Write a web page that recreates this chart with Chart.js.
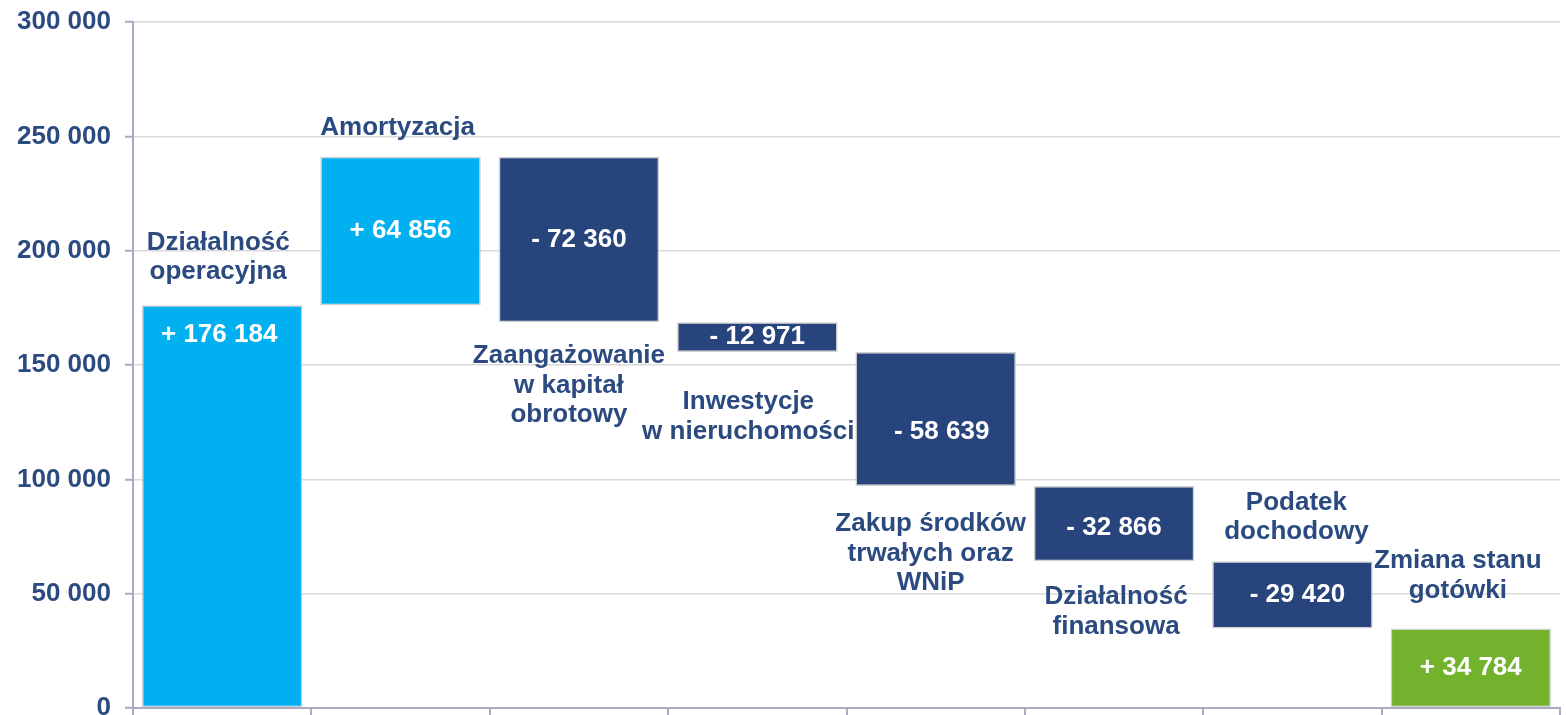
<!DOCTYPE html>
<html>
<head>
<meta charset="utf-8">
<script src="https://cdn.jsdelivr.net/npm/chart.js@4/dist/chart.umd.min.js"></script>
<style>
  html, body { margin: 0; padding: 0; background: #ffffff; }
  #wrap { width: 1566px; height: 715px; position: relative; }
</style>
</head>
<body>
<div id="wrap"><canvas id="c" width="1566" height="715"></canvas></div>
<script>
// ---- data ----
const categories = [
  ['Działalność', 'operacyjna'],
  ['Amortyzacja'],
  ['Zaangażowanie', 'w kapitał', 'obrotowy'],
  ['Inwestycje', 'w nieruchomości'],
  ['Zakup środków', 'trwałych oraz', 'WNiP'],
  ['Działalność', 'finansowa'],
  ['Podatek', 'dochodowy'],
  ['Zmiana stanu', 'gotówki']
];
const values = [176184, 64856, -72360, -12971, -58639, -32866, -29420, 34784];
const kinds = ['start', 'up', 'down', 'down', 'down', 'down', 'down', 'total'];
const yTicks = [0, 50000, 100000, 150000, 200000, 250000, 300000];

// ---- build floating bars from the values ----
const ranges = [];
let running = 0;
values.forEach((v, i) => {
  if (kinds[i] === 'total') {
    ranges.push([0, v]);
  } else {
    ranges.push([running, running + v]);
    running += v;
  }
});

const fmt = n => String(Math.abs(n)).replace(/\B(?=(\d{3})+(?!\d))/g, ' ');
const valueText = values.map(v => (v >= 0 ? '+ ' : '- ') + fmt(v));

const kindColor = { start: '#00B0F0', up: '#00B0F0', down: '#27447C', total: '#73B22D' };
const textColor = '#2B4A80';
const axisColor = '#A9ABC2';
const FONT = '"Liberation Sans", Arial, sans-serif';

// label placement (style/position options, not data)
const labelOpts = {
  side:   ['above', 'above', 'below', 'below', 'below', 'below', 'above', 'above'],
  gap:    [33, 29, 34, 50, 38, 36, 29, 38],
  dx:     [-4, -3, -10, -9, -5, 2, 4, -13],
  valDy:  [null, 0, 0, 0, 13, 4, 0, 0],
  valDx:  [-3, 0, 0, 0, 6, 0, 5, 0],
  lineH: 29.5
};

const labelPlugin = {
  id: 'wfLabels',
  afterDatasetsDraw(chart) {
    const ctx = chart.ctx;
    const meta = chart.getDatasetMeta(0);
    ctx.save();
    ctx.font = 'bold 26px ' + FONT;
    ctx.textAlign = 'center';
    ctx.textBaseline = 'middle';
    meta.data.forEach((bar, i) => {
      const top = Math.min(bar.y, bar.base);
      const bot = Math.max(bar.y, bar.base);
      // value label
      ctx.fillStyle = '#ffffff';
      let vy;
      if (labelOpts.valDy[i] === null) vy = top + 30;
      else vy = (top + bot) / 2 + labelOpts.valDy[i];
      ctx.fillText(valueText[i], bar.x + labelOpts.valDx[i], vy);
      // category label
      ctx.fillStyle = textColor;
      const lines = categories[i];
      const cx = bar.x + labelOpts.dx[i];
      if (labelOpts.side[i] === 'above') {
        const lastY = top - labelOpts.gap[i];
        lines.forEach((ln, k) => {
          ctx.fillText(ln, cx, lastY - (lines.length - 1 - k) * labelOpts.lineH);
        });
      } else {
        const firstY = bot + labelOpts.gap[i];
        lines.forEach((ln, k) => {
          ctx.fillText(ln, cx, firstY + k * labelOpts.lineH);
        });
      }
    });
    ctx.restore();
  }
};

new Chart(document.getElementById('c'), {
  type: 'bar',
  data: {
    labels: categories.map(c => c.join(' ')),
    datasets: [{
      data: ranges,
      backgroundColor: kinds.map(k => kindColor[k]),
      borderColor: 'rgba(205,205,205,0.95)',
      borderWidth: 1.5,
      borderSkipped: false,
      categoryPercentage: 0.9,
      barPercentage: 1.0
    }]
  },
  options: {
    responsive: false,
    animation: false,
    devicePixelRatio: 1,
    layout: { padding: { top: 22, right: 6, bottom: 0, left: 0 } },
    plugins: { legend: { display: false }, tooltip: { enabled: false } },
    scales: {
      x: {
        offset: true,
        grid: { display: true, drawOnChartArea: false, offset: true, color: axisColor, lineWidth: 2, tickLength: 7 },
        border: { display: true, color: axisColor, width: 2 },
        ticks: { display: false },
        afterFit(scale) { scale.height = 7; scale.paddingLeft = 0; scale.paddingRight = 0; }
      },
      y: {
        min: 0,
        max: 300000,
        afterBuildTicks(scale) { scale.ticks = yTicks.map(v => ({ value: v })); },
        grid: { color: '#D9D9D9', lineWidth: 1.5, tickColor: axisColor, tickLength: 8, tickWidth: 2 },
        border: { display: true, color: axisColor, width: 2 },
        ticks: {
          color: textColor,
          font: { family: FONT, size: 26, weight: 'bold' },
          padding: 14,
          callback: v => fmt(v)
        },
        afterFit(scale) { scale.width = 133; scale.paddingTop = 0; scale.paddingBottom = 0; }
      }
    }
  },
  plugins: [labelPlugin]
});
</script>
</body>
</html>
